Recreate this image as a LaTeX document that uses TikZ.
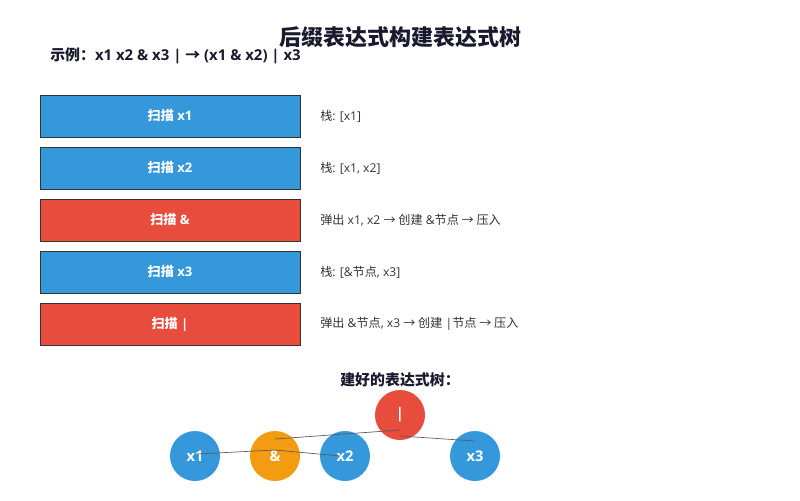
\documentclass[tikz,border=0pt]{standalone}
\usepackage{fontspec}
\setmainfont{Open Sans}
\newfontfamily\cjk{Noto Sans CJK SC}
\newcommand{\zh}[1]{{\cjk #1}}
\definecolor{scanblue}{HTML}{3498DB}
\definecolor{scanred}{HTML}{E74C3C}
\definecolor{amporange}{HTML}{F39C12}
\definecolor{darktext}{HTML}{333333}
\definecolor{titletext}{HTML}{1A1A2E}
\begin{document}
\begin{tikzpicture}[x=0.75pt, y=-0.75pt,
  stepbox/.style={draw=darktext, line width=0.6pt, minimum width=195pt, minimum height=31.5pt,
    inner sep=0pt, text=white, font=\fontsize{9.8}{12}\selectfont\bfseries},
  stacknote/.style={anchor=west, text=darktext, inner sep=0pt, font=\fontsize{9.1}{11}\selectfont},
  treenode/.style={circle, minimum size=37.5pt, inner sep=0pt, text=white,
    font=\fontsize{11}{13}\selectfont\bfseries},
  edge/.style={draw=black!65, line width=0.5pt}]

\useasboundingbox (0,0) rectangle (800,500);

\node [text=titletext, font=\cjk\fontsize{16.5}{20}\selectfont\bfseries] (title) at (400,37) {后缀表达式构建表达式树};
\node [anchor=west, inner sep=0pt, text=titletext, font=\fontsize{11.2}{13}\selectfont\bfseries] (example) at (50,56) {\zh{示例：}x1 x2 \& x3 | \zh{→} (x1 \& x2) | x3};

% scan steps
\node [stepbox, fill=scanblue] (s1) at (170,116) {\zh{扫描} x1};
\node [stepbox, fill=scanblue] (s2) at (170,168) {\zh{扫描} x2};
\node [stepbox, fill=scanred]  (s3) at (170,220) {\zh{扫描} \&};
\node [stepbox, fill=scanblue] (s4) at (170,272) {\zh{扫描} x3};
\node [stepbox, fill=scanred]  (s5) at (170,324) {\zh{扫描} |};

\node [stacknote] (n1) at (320,116) {\zh{栈}: [x1]};
\node [stacknote] (n2) at (320,168) {\zh{栈}: [x1, x2]};
\node [stacknote] (n3) at (320,220) {\zh{弹出} x1, x2 \zh{→ 创建} \&\zh{节点 → 压入}};
\node [stacknote] (n4) at (320,272) {\zh{栈}: [\&\zh{节点}, x3]};
\node [stacknote] (n5) at (320,324) {\zh{弹出} \&\zh{节点}, x3 \zh{→ 创建} |\zh{节点 → 压入}};

% tree
\node [text=titletext, font=\cjk\fontsize{11.2}{13}\selectfont\bfseries] (treetitle) at (400,380) {建好的表达式树：};

\node [treenode, fill=scanred] (root) at (400,415) {|};
\node [treenode, fill=scanblue] (x1) at (195,456) {x1};
\node [treenode, fill=amporange] (amp) at (275,456) {\&};
\node [treenode, fill=scanblue] (x2) at (345,456) {x2};
\node [treenode, fill=scanblue] (x3) at (475,456) {x3};

\draw [edge] ([yshift=-11.25]root.center) -- ([yshift=12.75]amp.center);
\draw [edge] ([yshift=-15.75]root.center) -- ([yshift=11.25]x3.center);
\draw [edge] ([yshift=4.5]amp.center) -- ([xshift=1.5,yshift=1.5]x1.center);
\draw [edge] ([yshift=4.5]amp.center) -- ([xshift=-3.75]x2.center);

\end{tikzpicture}
\end{document}
